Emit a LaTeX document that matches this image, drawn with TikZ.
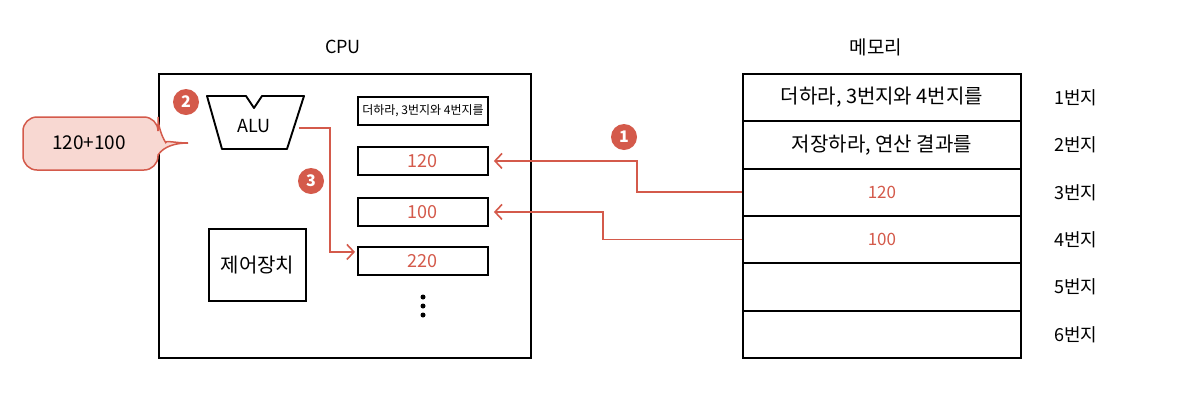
\documentclass[tikz,border=0pt]{standalone}
\usepackage{fontspec}
\setmainfont{Noto Sans CJK KR}
\usetikzlibrary{arrows.meta,calc}
\definecolor{rd}{HTML}{D45A4B}
\definecolor{pk}{HTML}{F8D8D2}
\begin{document}
\begin{tikzpicture}[x=1pt,y=-1pt,
 box/.style={draw, line width=1.9pt, inner sep=0pt},
 reg/.style={box, minimum width=130pt, minimum height=28pt, anchor=north west, text=rd, font=\fontsize{18}{20}\selectfont},
 cell/.style={box, minimum width=278pt, minimum height=47.33pt, anchor=north west, font=\fontsize{20}{22}\selectfont},
 num/.style={circle, fill=rd, text=white, font=\bfseries\fontsize{16}{16}\selectfont, minimum size=26pt, inner sep=0pt},
 wire/.style={draw=rd, line width=1.6pt},
 tip/.style={-{Straight Barb[length=7pt,width=15pt,line width=1.6pt]}},
 lbl/.style={font=\fontsize{18}{20}\selectfont},
 dot/.style={circle, fill=black, minimum size=5pt, inner sep=0pt},
]
\useasboundingbox[fill=white] (0,0) rectangle (1188,416);

% titles
\node[font=\fontsize{18}{20}\selectfont] (cputitle) at (343,47) {CPU};
\node[font=\fontsize{19}{21}\selectfont] (memtitle) at (876,47) {메모리};

% CPU box
\node[box, minimum width=372pt, minimum height=284pt, anchor=north west] (cpu) at (158,73) {};

% ALU
\draw[line width=1.9pt, line join=round] (207,96) -- (246,96) -- (254,108) -- (262,96) -- (304,96) -- (287,149) -- (222,149) -- cycle;
\node[font=\fontsize{18}{20}\selectfont] (alu) at (254,126) {ALU};
\coordinate (aluout) at (299,128);

% control unit
\node[box, minimum width=97pt, minimum height=72pt, anchor=north west, font=\fontsize{20}{22}\selectfont] (ctrl) at (208,228) {제어장치};

% registers
\node[reg, text=black, font=\fontsize{12}{13}\selectfont] (rins) at (357,96) {더하라, 3번지와 4번지를};
\node[reg] (r120) at (357,146) {120};
\node[reg] (r100) at (357,197) {100};
\node[reg] (r220) at (357,246) {220};
\node[dot] (d1) at (423,297) {};
\node[dot] (d2) at (423,306) {};
\node[dot] (d3) at (423,315) {};

% memory
\node[cell] (m1) at (742,73) {더하라, 3번지와 4번지를};
\node[cell] (m2) at (742,120.33) {저장하라, 연산 결과를};
\node[cell, text=rd, font=\fontsize{17}{19}\selectfont] (m3) at (742,167.67) {120};
\node[cell, text=rd, font=\fontsize{17}{19}\selectfont] (m4) at (742,215) {100};
\node[cell] (m5) at (742,262.33) {};
\node[cell] (m6) at (742,309.67) {};
\foreach \i in {1,...,6} {
  \node[lbl] (a\i) at ($(m\i.east)+(54,0)$) {\i 번지};
}

% connectors
\draw[wire, tip, shorten >=5pt] (m3.west) -- ++(-105,0) |- (r120.east);
\draw[wire, tip, shorten >=5pt] (m4.west) -- ++(-139,0) |- (r100.east);
\draw[wire, tip, shorten >=2pt] (aluout) -| ($(r220.west)+(-27,-9)$) -- ($(r220.west)+(0,-9)$);

% step numbers
\node[num] (n1) at (624,137) {1};
\node[num] (n2) at (186,102) {2};
\node[num] (n3) at (311,181) {3};

% callout
\filldraw[draw=rd, fill=pk, line width=1.5pt] (90,117) [rounded corners=14pt] -- (158,117) -- (158,131) [sharp corners] .. controls (164,140) and (176,143) .. (188,143) .. controls (176,143) and (164,146) .. (158,155) [rounded corners=14pt] -- (158,170) -- (23,170) -- (23,117) -- cycle;
\node[font=\fontsize{19}{21}\selectfont] (calltext) at (89,143) {120+100};
\end{tikzpicture}
\end{document}
